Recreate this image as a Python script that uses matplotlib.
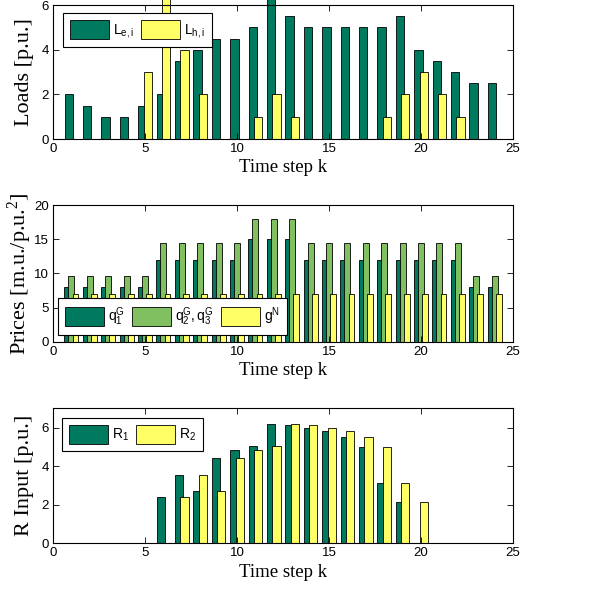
import numpy as np
import matplotlib
matplotlib.use('Agg')
import matplotlib.pyplot as plt

# ─── Données ───────────────────────────────────────────
k = np.arange(1, 25)

L_e = [2, 1.5, 1, 1, 1.5, 2, 3.5, 4, 4.5, 4.5, 5, 6.5,
       5.5, 5, 5, 5, 5, 5, 5.5, 4, 3.5, 3, 2.5, 2.5]
L_h = [0, 0, 0, 0, 3, 7, 4, 2, 0, 0, 1, 2,
       1, 0, 0, 0, 0, 1, 2, 3, 2, 1, 0, 0]

q1 = [8, 8, 8, 8, 8, 12, 12, 12, 12, 12, 15, 15,
      15, 12, 12, 12, 12, 12, 12, 12, 12, 12, 8, 8]
q23 = [9.6, 9.6, 9.6, 9.6, 9.6, 14.4, 14.4, 14.4, 14.4, 14.4, 18, 18,
       18, 14.4, 14.4, 14.4, 14.4, 14.4, 14.4, 14.4, 14.4, 14.4, 9.6, 9.6]
gN = [7] * 24

R1 = [0, 0, 0, 0, 0, 2.4, 3.55, 2.7, 4.4, 4.85, 5.05, 6.2,
      6.15, 6.0, 5.8, 5.5, 5.0, 3.15, 2.15, 0, 0, 0, 0, 0]
R2 = [0, 0, 0, 0, 0, 0, 2.4, 3.55, 2.7, 4.4, 4.85, 5.05,
      6.2, 6.15, 6.0, 5.8, 5.5, 5.0, 3.15, 2.15, 0, 0, 0, 0]

DARK = '#007A5E'
LIGHT = '#80C060'
YELLOW = '#FFFF66'
# ───────────────────────────────────────────────────────

plt.rcParams['font.family'] = 'Liberation Sans'
plt.rcParams['mathtext.fontset'] = 'custom'
plt.rcParams['mathtext.rm'] = 'Liberation Sans'
plt.rcParams['mathtext.it'] = 'Liberation Sans:italic'
plt.rcParams['mathtext.default'] = 'regular'

fig = plt.figure(figsize=(5.89, 5.92), dpi=100)
ax1 = fig.add_axes([0.090, 0.765, 0.781, 0.2264])
ax2 = fig.add_axes([0.090, 0.4228, 0.781, 0.2309])
ax3 = fig.add_axes([0.090, 0.0823, 0.781, 0.228])

bar_kw = dict(edgecolor='black', linewidth=0.6)

# Loads
ax1.bar(k - 0.143, L_e, 0.45, color=DARK, label='$L_{e,i}$', clip_on=False, **bar_kw)
ax1.bar(k + 0.143, L_h, 0.45, color=YELLOW, label='$L_{h,i}$', clip_on=False, **bar_kw)
ax1.set_ylim(0, 6)
ax1.set_yticks([0, 2, 4, 6])
ax1.set_ylabel('Loads [p.u.]')

# Prices
ax2.bar(k - 0.222, q1, 0.32, color=DARK, label='$q_1^G$', **bar_kw)
ax2.bar(k, q23, 0.32, color=LIGHT, label='$q_2^G, q_3^G$', **bar_kw)
ax2.bar(k + 0.222, gN, 0.32, color=YELLOW, label='$g^N$', **bar_kw)
ax2.set_ylim(0, 20)
ax2.set_yticks([0, 5, 10, 15, 20])
ax2.set_ylabel('Prices [m.u./p.u.$^2$]')

# R input
ax3.bar(k - 0.143, R1, 0.45, color=DARK, label='$R_1$', **bar_kw)
ax3.bar(k + 0.143, R2, 0.45, color=YELLOW, label='$R_2$', **bar_kw)
ax3.set_ylim(0, 7)
ax3.set_yticks([0, 2, 4, 6])
ax3.set_ylabel('R Input [p.u.]')

legend_pos = [(ax1, (0.021, 0.943), 2), (ax2, (0.0115, 0.3175), 3), (ax3, (0.019, 0.930), 2)]
for ax, anchor, nc in legend_pos:
    ax.set_xlim(0, 25)
    ax.set_xticks([0, 5, 10, 15, 20, 25])
    ax.tick_params(direction='in', top=True, right=True, length=4, width=0.6,
                   labelsize=9.5, pad=3)
    for sp in ax.spines.values():
        sp.set_linewidth(0.8)
    ax.set_xlabel('Time step k', family='Liberation Serif', fontsize=13.5, labelpad=3)
    ax.yaxis.label.set_family('Liberation Serif')
    ax.yaxis.label.set_size(16)
    ax.yaxis.set_label_coords(-0.042, 0.5)
    leg = ax.legend(loc='upper left', bbox_to_anchor=anchor, borderaxespad=0, ncol=nc,
                    fancybox=False, edgecolor='black', framealpha=1, fontsize=10,
                    handlelength=2.8, handleheight=1.75, handletextpad=0.3,
                    columnspacing=0.5, borderpad=0.5)
    leg.get_frame().set_linewidth(0.8)

plt.savefig('out.png', dpi=100)
plt.close()
